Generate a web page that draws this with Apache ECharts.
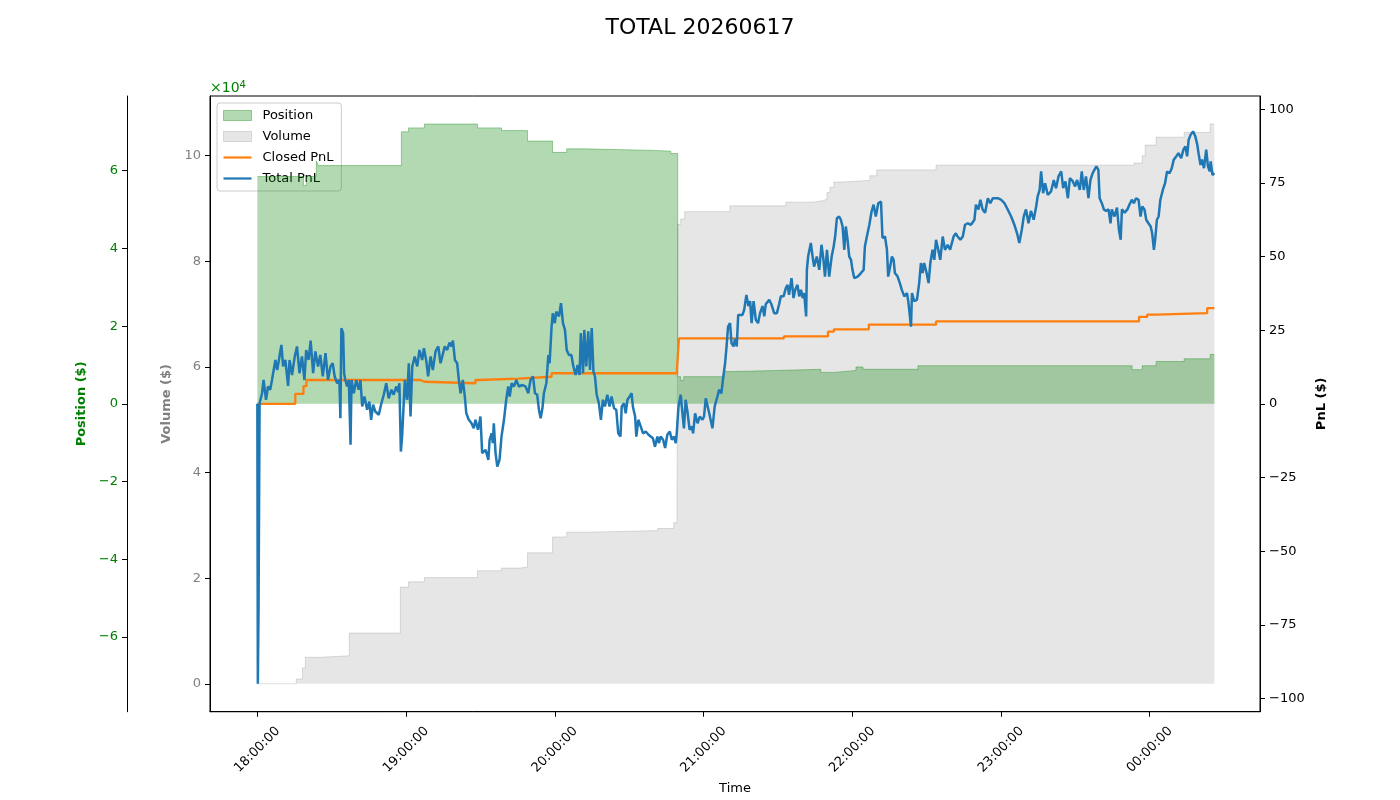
<!DOCTYPE html>
<html><head><meta charset="utf-8">
<script src="https://cdn.jsdelivr.net/npm/echarts@6/dist/echarts.min.js"></script>
<style>html,body{margin:0;padding:0;background:#fff}#c{width:1400px;height:800px}</style>
</head><body><div id="c"></div>
<script>
// time values are minutes since 18:00:00
const timeTicks = [0, 60, 120, 180, 240, 300, 360];
const volumeTicks = [0, 20000, 40000, 60000, 80000, 100000];
const positionTicks = [-60000, -40000, -20000, 0, 20000, 40000, 60000];
const pnlTicks = [-100, -75, -50, -25, 0, 25, 50, 75, 100];

const position = [[0,58500],[18.6,56200],[19.8,58500],[23.8,62500],[24.6,61300],[58.1,70000],[61.0,71000],[67.4,72000],[88.8,71000],[98.5,70300],[109.0,67600],[119.1,64700],[124.8,65600],[132.4,65200],[160.7,65000],[166.8,64400],[169.6,7000],[170.8,6000],[172.0,7000],[188.2,8300],[191.0,8600],[210.0,8900],[227.3,8100],[232.6,8600],[241.5,9500],[244.3,8900],[266.5,9800],[352.9,8800],[357.0,9800],[362.6,10900],[373.9,11600],[384.4,12700],[386.1,12700]];

const volume = [[0,0],[15.7,900],[18.2,3000],[19.4,5000],[25.4,5300],[37.1,9600],[57.7,18300],[61.0,19300],[67.4,20100],[88.8,21400],[98.5,21900],[105.8,22100],[109.0,24800],[119.1,27800],[124.8,28700],[133.3,29000],[161.5,29400],[168.0,30500],[169.3,31500],[169.6,87000],[170.8,88000],[172.4,89400],[190.6,90500],[213.2,91200],[224.1,91500],[228.5,91800],[229.8,93000],[231.0,94000],[232.6,95000],[235.0,95300],[247.1,96200],[249.9,97300],[273.8,98200],[353.7,98600],[357.0,100000],[358.2,102000],[362.6,103500],[373.9,104400],[384.4,106000],[386.1,106000]];

const closedPnl = [[0,0],[15.3,3.4],[18.6,6.0],[19.8,8.1],[65.8,7.5],[67.4,7.0],[88.0,8.1],[89.2,8.6],[105.4,9.2],[118.7,10.4],[169.3,12.0],[170.1,22.2],[212.4,22.9],[230.2,24.5],[232.6,25.3],[246.7,26.9],[273.8,28.0],[355.7,29.5],[359.0,30.3],[362.6,30.8],[383.2,32.5],[386.1,32.5]];

const totalPnl = [[0,0],[0.2,-95],[0.5,-68],[0.9,0.2],[1.9,3.6],[2.5,8.1],[3.5,1.4],[4.3,5.9],[5.2,4.8],[5.9,8.1],[7.3,14.9],[8.0,11.5],[8.6,14.4],[9.7,20.0],[10.4,12.7],[11.3,14.9],[12.4,6.1],[13.0,14.9],[14.0,9.8],[15.1,16.1],[16.0,19.5],[17.0,10.4],[18.0,16.1],[19.0,8.1],[19.7,18.3],[20.7,14.9],[21.5,21.5],[22.5,10.4],[23.4,17.8],[24.5,12.7],[25.4,16.6],[26.4,9.3],[27.5,17.2],[28.5,8.1],[29.5,12.7],[30.4,13.8],[31.2,9.3],[32.2,7.0],[33.1,8.1],[33.5,-4.9],[33.9,25.7],[34.6,24.0],[35.0,10.4],[35.5,8.1],[36.2,5.9],[36.9,8.1],[37.6,-13.9],[38.0,8.1],[38.9,3.6],[39.9,8.1],[40.9,4.8],[41.6,8.1],[42.3,-0.9],[43.2,2.5],[44.3,-2.0],[45.2,0.8],[45.9,-5.4],[46.7,-0.3],[47.6,-2.6],[49.0,-3.7],[49.9,-0.3],[51.0,3.1],[52.0,7.0],[53.0,1.9],[54.1,4.8],[55.0,3.1],[56.0,5.9],[56.8,4.0],[57.3,7.0],[57.9,-16.2],[58.4,-11.1],[59.5,8.1],[60.4,1.4],[61.1,13.8],[61.8,-4.3],[62.5,12.7],[63.5,16.1],[64.5,12.7],[65.4,18.3],[66.5,14.9],[67.2,18.9],[68.1,14.9],[68.9,9.3],[69.9,16.1],[70.8,11.5],[71.9,17.8],[73.0,19.5],[73.9,13.8],[74.6,16.1],[75.6,19.5],[76.6,18.3],[77.5,20.8],[78.3,19.5],[78.9,21.5],[79.7,14.9],[80.6,13.8],[81.3,8.1],[82.0,3.6],[82.9,8.1],[83.7,2.5],[84.3,-3.2],[85.3,-5.4],[86.4,-6.6],[87.3,-8.3],[88.0,-5.4],[89.0,-8.8],[89.8,-5.4],[90.0,-4.3],[90.7,-16.7],[92.1,-15.6],[93.2,-19.0],[93.7,-12.2],[94.5,-10.0],[95.0,-13.3],[95.4,-6.6],[96.1,-16.7],[96.8,-21.3],[97.7,-19.0],[98.5,-11.1],[99.5,-5.4],[100.4,1.4],[101.2,5.9],[101.8,2.5],[102.6,7.0],[103.5,5.9],[104.5,8.1],[105.5,5.9],[106.9,6.4],[108.2,5.9],[109.3,3.6],[110.2,8.1],[111.2,9.3],[112.0,3.6],[112.9,3.1],[113.6,-2.0],[114.3,-4.9],[115.0,-1.5],[115.6,3.6],[116.6,7.0],[117.4,16.6],[117.9,13.8],[118.7,26.2],[119.2,30.8],[120.0,27.4],[120.6,31.3],[121.7,29.7],[122.5,34.2],[123.3,27.4],[124.1,25.1],[124.8,18.3],[125.7,16.6],[126.7,16.6],[127.5,12.7],[128.4,9.8],[129.2,13.2],[130.0,9.8],[130.5,24.0],[131.4,10.4],[131.9,25.1],[132.7,12.7],[133.5,24.6],[134.2,11.5],[134.9,25.7],[135.6,10.9],[136.2,9.3],[136.9,3.1],[137.8,0.2],[138.6,-5.4],[139.4,1.4],[140.2,-0.9],[141.2,3.1],[142.1,-0.9],[142.9,2.5],[143.9,-1.5],[144.8,-2.0],[145.6,-10.0],[146.5,-11.1],[147.0,-0.9],[147.9,0.2],[148.6,-3.2],[149.3,1.4],[150.2,2.5],[151.0,3.6],[151.5,-0.9],[152.4,-4.3],[152.9,-11.1],[153.7,-5.4],[154.7,-7.7],[155.6,-10.0],[156.7,-9.4],[157.8,-10.5],[158.7,-11.1],[159.6,-11.7],[160.4,-14.5],[161.4,-11.1],[162.0,-13.3],[162.7,-11.1],[163.7,-12.2],[164.5,-15.0],[165.4,-10.5],[166.4,-9.4],[167.2,-12.2],[168.1,-11.1],[168.8,-13.3],[169.2,-10.0],[169.9,-0.9],[170.8,3.1],[171.5,-3.2],[172.1,-8.3],[172.8,1.4],[173.6,-3.2],[174.4,-8.8],[175.3,-7.7],[175.8,-10.0],[176.6,-3.2],[177.6,-6.6],[178.5,-4.3],[179.6,-5.4],[180.2,-4.3],[180.9,1.9],[182.3,-3.2],[183.6,-8.3],[184.5,-0.9],[185.6,2.5],[186.3,4.8],[187.2,3.6],[188.0,9.3],[188.7,13.8],[189.3,19.5],[189.9,26.2],[190.7,27.4],[191.3,20.6],[192.1,19.5],[192.7,22.1],[193.4,19.5],[194.0,30.2],[194.8,30.8],[195.7,30.2],[196.4,31.9],[197.3,37.0],[198.1,33.2],[198.8,34.9],[199.4,27.4],[200.2,34.9],[201.1,28.5],[202.0,27.4],[202.8,30.8],[203.8,33.2],[204.5,29.7],[205.1,33.8],[206.5,35.3],[207.4,33.8],[208.5,30.8],[209.6,30.8],[210.5,33.8],[211.2,36.5],[212.3,36.5],[213.2,39.3],[213.9,40.4],[214.5,37.0],[215.5,42.7],[216.3,35.9],[217.0,38.7],[217.9,40.4],[218.6,36.5],[219.3,38.7],[220.0,35.9],[220.6,37.6],[221.4,29.7],[221.7,45.5],[222.2,50.0],[223.3,54.6],[224.0,50.0],[224.6,46.6],[225.7,50.0],[226.7,45.5],[227.6,54.0],[228.4,48.9],[229.0,43.2],[229.8,52.3],[230.7,43.2],[231.7,50.0],[232.5,53.4],[233.1,56.8],[233.8,63.0],[234.7,63.6],[235.4,62.5],[236.1,60.2],[236.8,52.3],[237.4,60.2],[238.1,55.7],[238.8,50.0],[239.5,48.9],[240.1,45.5],[240.8,42.7],[242.2,43.2],[243.5,44.4],[244.6,45.5],[245.1,53.4],[245.9,56.8],[246.9,60.8],[247.8,65.3],[248.6,67.6],[249.5,63.6],[250.5,68.1],[251.6,68.7],[252.2,56.3],[253.2,56.8],[254.0,52.3],[254.5,43.2],[255.3,46.6],[256.0,50.0],[256.7,48.9],[257.2,44.4],[258.3,43.2],[259.2,41.0],[260.0,38.7],[261.0,36.5],[262.1,37.6],[262.7,34.2],[263.7,26.2],[264.1,37.6],[265.0,34.9],[266.1,35.3],[267.0,41.0],[267.7,47.8],[268.4,44.4],[269.0,47.8],[270.0,44.4],[270.8,41.0],[271.5,47.8],[272.4,52.3],[273.1,48.9],[273.8,55.7],[274.7,52.3],[275.5,48.9],[276.5,56.8],[277.4,52.3],[278.5,54.0],[279.5,52.3],[279.8,53.4],[280.9,56.8],[281.8,57.9],[282.5,56.8],[283.6,55.7],[284.6,56.8],[285.5,60.8],[286.6,61.3],[287.9,60.8],[289.3,62.5],[289.9,67.6],[290.9,66.0],[291.7,69.3],[292.6,66.0],[293.6,64.9],[294.7,69.8],[295.7,68.1],[296.7,69.8],[298.7,69.8],[300.0,69.3],[301.4,68.1],[302.7,66.0],[304.1,63.6],[305.4,60.8],[306.5,57.9],[307.4,54.6],[308.4,59.1],[309.2,63.6],[310.1,66.0],[311.1,61.3],[312.1,65.5],[313.2,62.5],[314.2,67.0],[314.8,70.4],[315.6,72.6],[316.2,78.9],[317.0,71.5],[317.8,74.9],[318.9,70.9],[320.2,72.1],[321.3,76.0],[322.2,73.2],[323.2,77.2],[324.3,78.9],[325.1,73.2],[326.0,75.5],[327.0,69.8],[327.8,76.6],[329.0,75.5],[329.9,73.8],[330.7,76.0],[331.8,72.6],[332.6,78.9],[333.4,72.6],[334.3,77.2],[335.3,69.8],[336.1,76.0],[337.0,78.3],[337.7,79.4],[338.5,80.6],[339.3,79.4],[339.8,69.8],[340.7,68.1],[341.5,66.0],[342.4,65.5],[343.4,66.0],[344.2,61.3],[344.7,66.0],[345.8,63.6],[346.8,66.6],[347.6,59.1],[348.3,55.7],[348.8,66.0],[349.9,64.9],[351.0,66.0],[351.8,67.6],[352.8,69.3],[353.6,68.1],[354.5,69.8],[355.5,69.3],[356.3,63.6],[357.0,67.0],[357.9,66.0],[358.6,62.5],[359.5,61.3],[360.4,60.2],[361.0,57.9],[361.7,52.3],[362.2,55.7],[362.9,62.5],[363.6,63.6],[364.3,69.3],[365.3,72.6],[366.2,74.9],[367.0,78.9],[368.0,78.3],[368.9,80.0],[369.7,82.9],[370.7,84.0],[371.6,85.1],[372.7,83.4],[373.6,86.3],[374.4,87.4],[375.1,84.0],[375.7,89.6],[376.5,91.3],[377.5,92.5],[378.4,90.8],[379.2,88.0],[379.7,85.1],[380.5,81.1],[381.1,82.9],[381.9,80.0],[382.8,86.3],[383.5,80.6],[384.2,78.9],[384.6,82.3],[385.3,77.7],[386.1,78.3]];

const FONT = 'DejaVu Sans';
const chart = echarts.init(document.getElementById('c'), null, {renderer: 'canvas'});
const minusFmt = (s) => String(s).replace('-', '\u2212');
const lineIcon = 'path://M0,0 L28,0 L28,2.2 L0,2.2 Z';

chart.setOption({
  animation: false,
  backgroundColor: '#ffffff',
  title: {
    text: 'TOTAL 20260617', left: 'center', top: 12,
    textStyle: {fontFamily: FONT, fontSize: 22, fontWeight: 'normal', color: '#000'}
  },
  grid: {left: 210, right: 140, top: 96, bottom: 85, show: true, borderColor: '#000', borderWidth: 1, backgroundColor: 'transparent'},
  legend: {
    z: 2, orient: 'vertical', left: 217, top: 103, itemWidth: 28, itemHeight: 10, itemGap: 8,
    symbolKeepAspect: true,
    padding: [6, 8, 6, 6], backgroundColor: 'rgba(255,255,255,0.8)', borderColor: '#cccccc', borderWidth: 1, borderRadius: 3,
    textStyle: {fontFamily: FONT, fontSize: 13, color: '#000', padding: [0, 0, 0, 6]},
    data: [
      {name: 'Position', icon: 'rect', itemStyle: {color: 'rgba(0,128,0,0.3)', borderColor: 'rgba(0,128,0,0.35)', borderWidth: 1}},
      {name: 'Volume', icon: 'rect', itemStyle: {color: 'rgba(128,128,128,0.2)', borderColor: 'rgba(128,128,128,0.25)', borderWidth: 1}},
      {name: 'Closed PnL', icon: lineIcon, itemStyle: {color: '#ff7f0e'}},
      {name: 'Total PnL', icon: lineIcon, itemStyle: {color: '#1f77b4'}}
    ]
  },
  graphic: [{
    type: 'text', left: 210, top: 80, z: 10,
    style: {text: '×10{s|4}', fill: '#008000', fontSize: 14, fontFamily: FONT,
      rich: {s: {fontSize: 10, verticalAlign: 'top', fill: '#008000', fontFamily: FONT, padding: [0, 0, 7, 0]}}}
  }],
  xAxis: {
    type: 'value', min: -19.1, max: 404.5,
    name: 'Time', nameLocation: 'middle', nameGap: 68,
    nameTextStyle: {fontFamily: FONT, fontSize: 13, color: '#000'},
    axisLine: {show: true, onZero: false, lineStyle: {color: '#000', width: 1}},
    axisTick: {show: true, length: 5, lineStyle: {color: '#000'}, customValues: timeTicks},
    axisLabel: {
      customValues: timeTicks, rotate: 45, align: 'center', verticalAlign: 'middle', margin: 38,
      fontFamily: FONT, fontSize: 13, color: '#000',
      formatter: (v) => String(Math.round(18 + v / 60) % 24).padStart(2, '0') + ':00:00'
    },
    splitLine: {show: false}
  },
  yAxis: [
    {
      type: 'value', position: 'left', min: -5300, max: 111300,
      name: 'Volume ($)', nameLocation: 'middle', nameGap: 36,
      nameTextStyle: {fontFamily: FONT, fontSize: 13, fontWeight: 'bold', color: '#808080'},
      axisLine: {show: true, onZero: false, lineStyle: {color: '#000'}},
      axisTick: {show: true, length: 5, lineStyle: {color: '#000'}, customValues: volumeTicks},
      axisLabel: {customValues: volumeTicks, margin: 9, fontFamily: FONT, fontSize: 13, color: '#808080',
        formatter: (v) => String(Math.round(v / 10000))},
      splitLine: {show: false}
    },
    {
      type: 'value', position: 'left', offset: 83, min: -79200, max: 79200,
      name: 'Position ($)', nameLocation: 'middle', nameGap: 38,
      nameTextStyle: {fontFamily: FONT, fontSize: 13, fontWeight: 'bold', color: '#008000'},
      axisLine: {show: true, onZero: false, lineStyle: {color: '#000'}},
      axisTick: {show: true, length: 5, lineStyle: {color: '#000'}, customValues: positionTicks},
      axisLabel: {customValues: positionTicks, margin: 9, fontFamily: FONT, fontSize: 13, color: '#008000',
        formatter: (v) => minusFmt(Math.round(v / 10000))},
      splitLine: {show: false}
    },
    {
      type: 'value', position: 'right', min: -104.5, max: 104.5,
      name: 'PnL ($)', nameLocation: 'middle', nameGap: 53,
      nameTextStyle: {fontFamily: FONT, fontSize: 13, fontWeight: 'bold', color: '#000'},
      axisLine: {show: true, onZero: false, lineStyle: {color: '#000'}},
      axisTick: {show: true, length: 5, lineStyle: {color: '#000'}, customValues: pnlTicks},
      axisLabel: {customValues: pnlTicks, margin: 9, fontFamily: FONT, fontSize: 13, color: '#000',
        formatter: (v) => minusFmt(v)},
      splitLine: {show: false}
    }
  ],
  series: [
    {
      name: 'Volume', type: 'line', yAxisIndex: 0, step: 'end', data: volume, z: 1,
      symbol: 'none', itemStyle: {color: 'rgba(128,128,128,0.2)'},
      lineStyle: {color: 'rgba(128,128,128,0.25)', width: 1},
      areaStyle: {color: 'rgba(128,128,128,0.2)', opacity: 1, origin: 0}
    },
    {
      name: 'Position', type: 'line', yAxisIndex: 1, step: 'end', data: position, z: 3,
      symbol: 'none', itemStyle: {color: 'rgba(0,128,0,0.3)'},
      lineStyle: {color: 'rgba(0,128,0,0.35)', width: 1},
      areaStyle: {color: 'rgba(0,128,0,0.3)', opacity: 1, origin: 0}
    },
    {
      name: 'Closed PnL', type: 'line', yAxisIndex: 2, step: 'end', data: closedPnl, z: 4,
      symbol: 'none', itemStyle: {color: '#ff7f0e'}, lineStyle: {color: '#ff7f0e', width: 2.3}
    },
    {
      name: 'Total PnL', type: 'line', yAxisIndex: 2, data: totalPnl, z: 5,
      symbol: 'none', itemStyle: {color: '#1f77b4'}, lineStyle: {color: '#1f77b4', width: 2.5}
    }
  ]
});
</script>
</body></html>
